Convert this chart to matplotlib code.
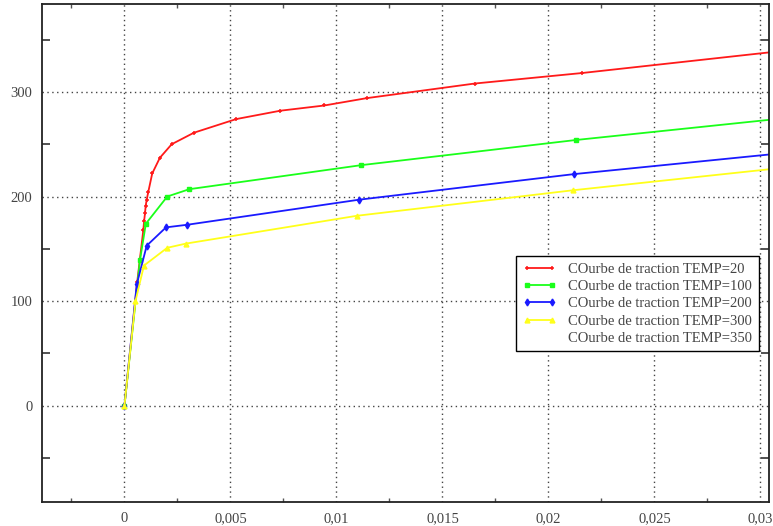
import numpy as np
import matplotlib
matplotlib.use('Agg')
import matplotlib.pyplot as plt
from matplotlib.ticker import MultipleLocator, FuncFormatter

# strain / stress values
x_20 = [0, 0.0006, 0.00089, 0.00093, 0.00097, 0.0010, 0.00105, 0.00112, 0.00131,
        0.00167, 0.00223, 0.00328, 0.00527, 0.00735, 0.00943, 0.01142, 0.01653,
        0.02157, 0.035]
y_20 = [0, 118, 168, 177, 184, 191, 197, 204, 222, 237, 250, 261, 274, 282, 287,
        294, 308, 318, 348]

x_100 = [0, 0.00073, 0.00101, 0.00202, 0.00306, 0.01118, 0.02129, 0.035]
y_100 = [0, 139, 174, 200, 207, 230, 254, 283]

x_200 = [0, 0.00058, 0.00105, 0.00196, 0.00296, 0.01108, 0.0212, 0.035]
y_200 = [0, 116, 153, 170.5, 173, 197, 221.4, 249.5]

x_300 = [0, 0.00052, 0.00092, 0.00202, 0.0029, 0.01097, 0.02117, 0.035]
y_300 = [0, 100, 134, 151, 155, 181.6, 206, 236]

labels = ['COurbe de traction TEMP=20', 'COurbe de traction TEMP=100',
          'COurbe de traction TEMP=200', 'COurbe de traction TEMP=300',
          'COurbe de traction TEMP=350']


def comma_fmt(v, pos):
    s = ('%.3f' % v).rstrip('0').rstrip('.')
    if s == '-0':
        s = '0'
    return s.replace('.', ',')


fig = plt.figure(figsize=(7.73, 5.26), dpi=100)
ax = fig.add_axes([0.0543, 0.0456, 0.9405, 0.9468])

ax.plot(x_20, y_20, color='#ff1a1a', lw=1.3, marker='+', ms=3.5, mew=1.1, label=labels[0])
ax.plot(x_100, y_100, color='#1aff1a', lw=1.3, marker='s', ms=3, label=labels[1])
ax.plot(x_200, y_200, color='#1a1aff', lw=1.3, marker='d', ms=3.5, label=labels[2])
ax.plot(x_300, y_300, color='#ffff1a', lw=1.3, marker='^', ms=3.5, label=labels[3])
ax.plot([], [], color='white', lw=1.3, label=labels[4])

ax.set_xlim(-0.00389, 0.0304)
ax.set_ylim(-92, 384)

ax.xaxis.set_major_locator(MultipleLocator(0.005))
ax.xaxis.set_minor_locator(MultipleLocator(0.0025))
ax.yaxis.set_major_locator(MultipleLocator(100))
ax.yaxis.set_minor_locator(MultipleLocator(50))
ax.xaxis.set_major_formatter(FuncFormatter(comma_fmt))

ax.grid(True, which='major', color='#444444', linestyle=(0, (1, 2.5)), linewidth=1)
ax.tick_params(which='major', length=0, pad=7, labelsize=10.5, labelcolor='#444444')
ax.tick_params(axis='y', which='minor', direction='in', left=True, right=True,
               length=6, width=1.2, color='#333333')
ax.tick_params(axis='x', which='minor', direction='in', top=True, bottom=True,
               length=3, width=1, color='#555555')

for lab in ax.get_xticklabels() + ax.get_yticklabels():
    lab.set_family('Liberation Serif')

for sp in ax.spines.values():
    sp.set_linewidth(1.3)
    sp.set_color('#222222')

leg = ax.legend(loc='upper right', bbox_to_anchor=(0.986, 0.494), numpoints=2,
                prop={'family': 'Liberation Serif', 'size': 10.5}, fancybox=False,
                framealpha=1, edgecolor='black', labelspacing=0.28,
                handlelength=2.3, borderaxespad=0, borderpad=0.45)
leg.get_frame().set_linewidth(1.0)
for t in leg.get_texts():
    t.set_color('#444444')

fig.savefig('out.png', dpi=100)
